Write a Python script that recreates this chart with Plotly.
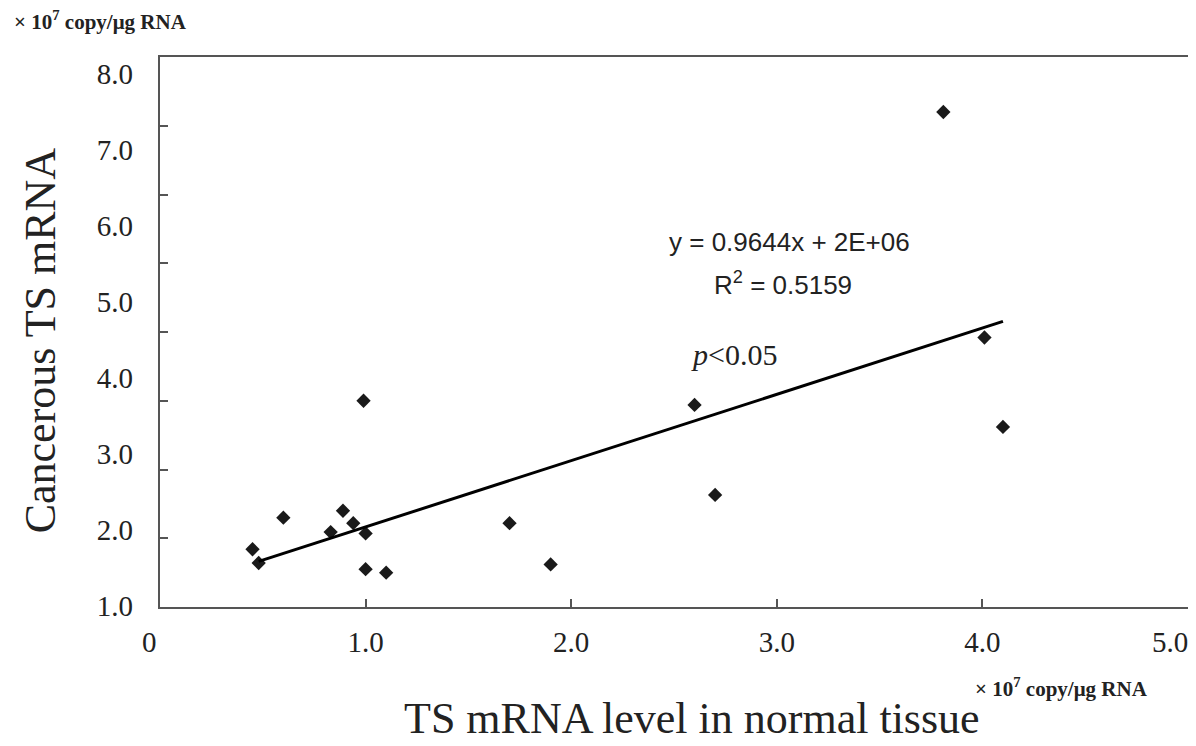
import plotly.graph_objects as go

# Data (x: TS mRNA in normal tissue, y: cancerous TS mRNA; units x10^7 copy/ug RNA)
x_normal = [0.45, 0.48, 0.60, 0.83, 0.89, 0.94, 0.99, 1.00, 1.00, 1.10, 1.70, 1.90, 2.60, 2.70, 3.81, 4.01, 4.10]
y_cancer = [0.84, 0.64, 1.30, 1.09, 1.40, 1.22, 3.00, 1.07, 0.55, 0.50, 1.22, 0.62, 2.94, 1.63, 7.20, 3.92, 2.62]

# Trend line from the printed equation y = 0.9644x + 2E+06 (2E+06 = 0.2 x10^7)
slope = 0.9644
intercept = 0.2
trend_x = [0.48, 4.10]
trend_y = [slope * v + intercept for v in trend_x]

NB = "\u00a0"
x_tickvals = [0, 1, 2, 3, 4]
x_ticktext = ["0" + NB * 3, "1.0", "2.0", "3.0", "4.0"]
x_end_val = [5]
x_end_text = ["5.0"]
y_label_vals = [1, 2, 3, 4, 5, 6, 7, 8]
y_label_text = ["1.0", "2.0", "3.0", "4.0", "5.0", "6.0", "7.0", "8.0"]

serif = "Liberation Serif, Times New Roman, serif"
sans = "Liberation Sans, Arial, sans-serif"

fig = go.Figure()
fig.add_trace(go.Scatter(
    x=x_normal, y=y_cancer, mode="markers",
    marker=dict(symbol="diamond", size=11, color="#1a1a1a"),
    showlegend=False, hoverinfo="skip"))
fig.add_trace(go.Scatter(
    x=trend_x, y=trend_y, mode="lines",
    line=dict(color="#000000", width=3),
    showlegend=False, hoverinfo="skip"))
fig.add_trace(go.Scatter(
    x=[None], y=[None], xaxis="x2", yaxis="y2", mode="markers",
    showlegend=False, hoverinfo="skip"))

axis_line = "#555555"
txt = "#222222"

def note(text, x, y, family, size, ref="paper", angle=0):
    return dict(text=text, x=x, y=y, xref=ref if ref == "paper" else "x",
                yref=ref if ref == "paper" else "y",
                xanchor="center", yanchor="middle", textangle=angle,
                showarrow=False, font=dict(family=family, size=size, color=txt))

fig.update_layout(
    width=1188, height=738,
    margin=dict(l=152, r=8, t=49, b=139, autoexpand=False),
    paper_bgcolor="white", plot_bgcolor="white",
    xaxis=dict(
        range=[0, 5], tickvals=x_tickvals + x_end_val, ticktext=x_ticktext + [""],
        ticks="inside", ticklen=8, tickcolor=axis_line, tickwidth=1.5,
        showline=True, linecolor=axis_line, linewidth=2, mirror=True,
        showgrid=False, zeroline=False, automargin=False,
        tickfont=dict(family=serif, size=29, color=txt),
        ticklabelstandoff=8, ticklabeloverflow="allow"),
    xaxis2=dict(
        overlaying="x", side="bottom", anchor="y2", range=[0, 5],
        tickvals=x_end_val, ticktext=x_end_text,
        ticks="", showline=False, showgrid=False, zeroline=False,
        automargin=False, ticklabelshift=-18,
        tickfont=dict(family=serif, size=29, color=txt),
        ticklabelstandoff=15, ticklabeloverflow="allow"),
    yaxis=dict(
        range=[0, 8], tick0=0, dtick=1,
        ticks="inside", ticklen=8, tickcolor=axis_line, tickwidth=1.5,
        showticklabels=False, automargin=False,
        showline=True, linecolor=axis_line, linewidth=2, mirror=True,
        showgrid=False, zeroline=False),
    yaxis2=dict(
        overlaying="y", side="left", anchor="x2", range=[0.99, 8.22],
        tickvals=y_label_vals, ticktext=y_label_text,
        ticks="", showline=False, showgrid=False, zeroline=False,
        automargin=False,
        tickfont=dict(family=serif, size=29, color=txt),
        ticklabelstandoff=26, ticklabeloverflow="allow"),
    annotations=[
        note("y = 0.9644x + 2E+06", 3.06, 5.31, sans, 26, ref="data"),
        note("R<sup>2</sup> = 0.5159", 3.03, 4.71, sans, 26, ref="data"),
        note("<i>p</i>&lt;0.05", 2.79, 3.67, serif, 30, ref="data"),
        note("Cancerous TS mRNA", -0.1167, 0.485, serif, 44, angle=-90),
        note("TS mRNA level in normal tissue", 0.5175, -0.202, serif, 44),
        note("<b>× 10<sup>7</sup> copy/μg RNA</b>", -0.0574, 1.067, serif, 21),
        note("<b>× 10<sup>7</sup> copy/μg RNA</b>", 0.877, -0.147, serif, 21),
    ],
)

fig.write_html("out.html")
